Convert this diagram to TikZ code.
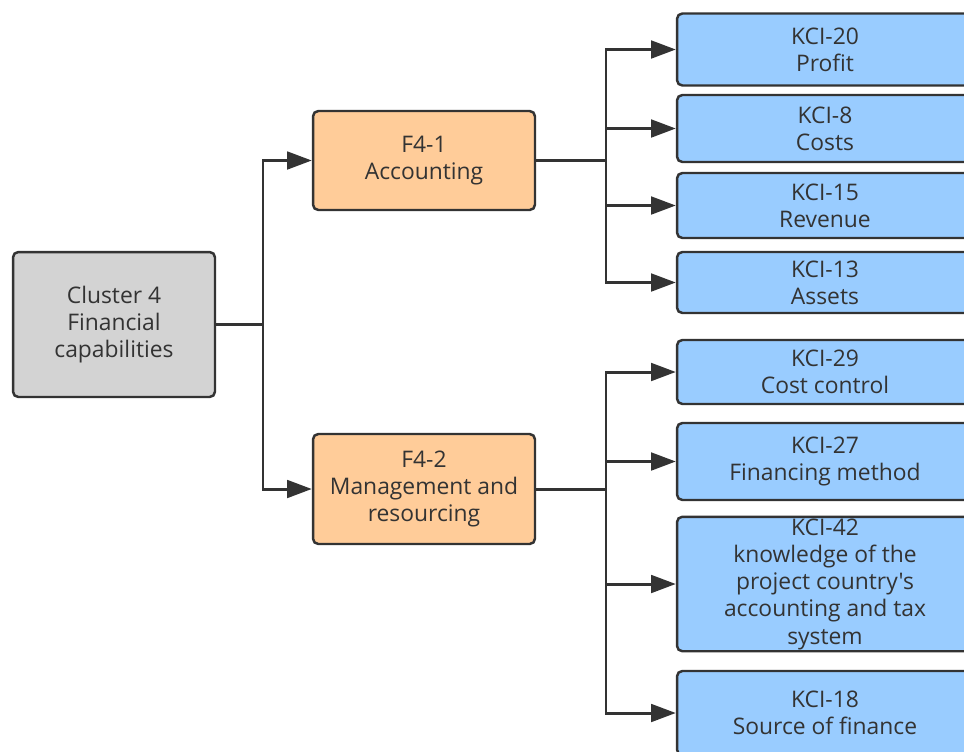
\documentclass[tikz,border=0pt]{standalone}
\usepackage{fontspec}
\setmainfont{Open Sans}[Ligatures=TeXOff]
\usepackage{xcolor}
\usetikzlibrary{arrows.meta}

\definecolor{linegray}{HTML}{333333}
\definecolor{clustergray}{HTML}{D3D3D3}
\definecolor{factororange}{HTML}{FFCC99}
\definecolor{kciblue}{HTML}{99CCFF}

\begin{document}
\begin{tikzpicture}
    [x=0.02cm, y=-0.02cm,
    every node/.style={draw=linegray, line width=1.4pt, rectangle, rounded corners=3pt,
        align=center, text=linegray, inner sep=1pt,
        font=\fontsize{13}{15.5}\selectfont},
    cluster/.style={fill=clustergray, minimum width=4.04cm},
    factor/.style={fill=factororange, minimum width=4.44cm},
    kci/.style={fill=kciblue, minimum width=5.92cm},
    link/.style={draw=linegray, line width=1.7pt},
    arrow/.style={link, -{Triangle[length=14pt, width=10pt]}}]

    \clip (0,0) rectangle (964,751);

    % root
    \node[cluster, minimum height=2.9cm] (cl4) at (114,324.5) {Cluster 4\\ Financial\\ capabilities};

    % factors
    \node[factor, minimum height=1.98cm] (f41) at (424,160.5) {F4-1\\ Accounting};
    \node[factor, minimum height=2.2cm] (f42) at (424,489) {F4-2\\ Management and\\ resourcing};

    % key capability indicators
    \node[kci, minimum height=1.44cm] (k20) at (825,49.5) {KCI-20\\ Profit};
    \node[kci, minimum height=1.34cm] (k8) at (825,128.5) {KCI-8\\ Costs};
    \node[kci, minimum height=1.30cm] (k15) at (825,205.5) {KCI-15\\ Revenue};
    \node[kci, minimum height=1.22cm] (k13) at (825,282.5) {KCI-13\\ Assets};
    \node[kci, minimum height=1.28cm] (k29) at (825,372) {KCI-29\\ Cost control};
    \node[kci, minimum height=1.54cm] (k27) at (825,461.5) {KCI-27\\ Financing method};
    \node[kci, minimum height=2.64cm] (k42) at (825,584) {KCI-42\\ knowledge of the\\ project country's\\ accounting and tax\\ system};
    \node[kci, minimum height=1.68cm] (k18) at (825,713) {KCI-18\\ Source of finance};

    % connectors
    \coordinate (s0) at (263,324.5);
    \coordinate (s1) at (606,160.5);
    \coordinate (s2) at (606,489);
    \draw[link] (cl4.east) -- (s0);
    \draw[arrow] (s0) |- (f41);
    \draw[arrow] (s0) |- (f42);

    \draw[link] (f41.east) -- (s1);
    \foreach \k in {k20,k8,k15,k13}
        \draw[arrow] (s1) |- (\k);

    \draw[link] (f42.east) -- (s2);
    \foreach \k in {k29,k27,k42,k18}
        \draw[arrow] (s2) |- (\k);
\end{tikzpicture}
\end{document}
